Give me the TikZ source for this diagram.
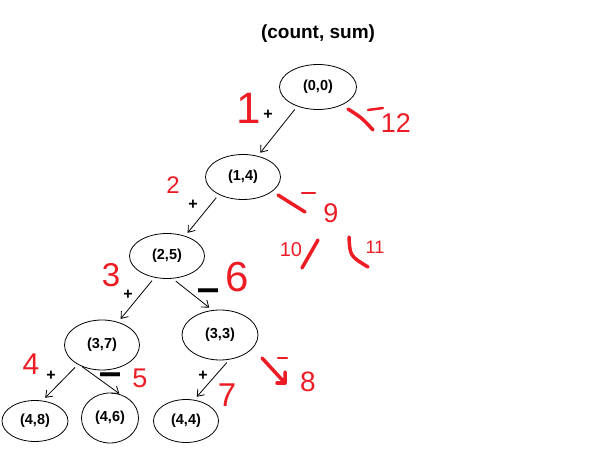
\documentclass[tikz,border=0pt]{standalone}
\usepackage{fontspec}
\setmainfont{Liberation Sans}
\usetikzlibrary{shapes.geometric,arrows.meta}
\definecolor{penred}{RGB}{237,28,36}
\tikzset{
  pair/.style={draw, ellipse, inner sep=0pt, line width=0.8pt, font=\bfseries\fontsize{14.5}{16}\selectfont},
  edge/.style={->, >={Straight Barb[length=6pt,width=9pt]}, line width=0.8pt, shorten <=4pt, shorten >=4pt},
  sign/.style={inner sep=0pt, font=\bfseries\fontsize{#1}{#1}\selectfont},
  note/.style={text=penred, inner sep=0pt, font=\fontsize{#1}{#1}\selectfont},
  pen/.style={draw=penred, line width=3.5pt, line cap=round, line join=round}
}

\begin{document}
\begin{tikzpicture}[x=1pt,y=-1pt]
  \useasboundingbox (0,0) rectangle (603,454);
  \node[font=\bfseries\fontsize{19}{22}\selectfont] (title) at (318,34) {(count, sum)};
  \foreach \n/\x/\y/\w/\h/\lbl in {n00/318/87/77/45/{(0,0)}, n14/243/177/75/45/{(1,4)},
      n25/167/256/75/45/{(2,5)}, n37/102/345/75/50/{(3,7)}, n33/220/335/76/50/{(3,3)},
      n48/35/421/66/41/{(4,8)}, n46/110/418/57/50/{(4,6)}, n44/186/421/65/43/{(4,4)}}
    \node[pair, minimum width=\w pt, minimum height=\h pt] (\n) at (\x,\y) {\lbl};

  \draw[edge] (n00.223) -- (n14.55);
  \draw[edge] (n14.216) -- (n25.48);
  \draw[edge] (n25.240) -- (n37.55);
  \draw[edge] (n25.284) -- (n33.107);
  \draw[edge] (n37.219) -- (n48.70);
  \draw[edge, shorten <=0pt, shorten >=1pt] (n37.227) -- (n46.67);
  \draw[edge] (n33.291) -- (n44.69);

  \foreach \n/\x/\y in {p1/268/115, p2/193/205, p3/128/295, p4/51/376, p5/203/376}
    \node[sign=16] (\n) at (\x,\y) {+};
  \foreach \n/\x/\y in {m1/208/295, m2/110/379}
    \node[sign=20] (\n) at (\x,\y) {\scalebox{1}[2]{—}};

  \foreach \n/\x/\y/\s/\lbl in {r1/249/108/44/1, r2/173/185/24/2, r3/111/275/33/3,
      r4/31/364/30/4, r5/140/378/27/5, r6/237/277/42/6, r7/227/395/33/7, r8/308/382/28/8,
      r9/331/213/27/9, r10/291/250/20/10, r11/375/247/18/11, r12/396/123/27/12}
    \node[note=\s] (\n) at (\x,\y) {\lbl};

  \draw[pen] (348,109) .. controls (362,118) .. (373,130);
  \draw[pen, line width=2.5pt] (368,110) -- (383,108);
  \draw[pen] (278,195) .. controls (291,203) .. (305,212);
  \draw[pen, line width=2.5pt] (302,193) -- (315,193);
  \draw[pen] (318,240) -- (302,268);
  \draw[pen] (349,237) .. controls (350,256) .. (368,267);
  \draw[pen] (262,358) -- (285,383) -- (285,372);
  \draw[pen] (285,383) -- (277,383);
  \draw[pen, line width=2.5pt] (278,358) -- (287,358);
\end{tikzpicture}
\end{document}
